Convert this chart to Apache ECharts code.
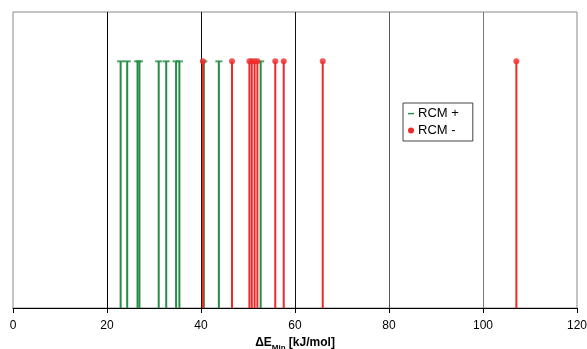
<!DOCTYPE html>
<html><head><meta charset="utf-8">
<script src="https://cdn.jsdelivr.net/npm/echarts@6/dist/echarts.min.js"></script>
<style>html,body{margin:0;padding:0;background:#fff}#c{width:587px;height:349px}</style>
</head><body><div id="c"></div>
<script>
const xTicks = [0, 20, 40, 60, 80, 100, 120];
const rcmPlus = [22.9, 24.3, 26.5, 26.9, 31.0, 32.6, 34.7, 35.4, 40.6, 43.8, 52.7];
const rcmMinus = [40.4, 46.6, 50.3, 50.8, 51.4, 52.0, 55.8, 57.6, 65.9, 107.1];
const stemHeight = 1;

const green = '#238C46', red = '#F02828';
const chart = echarts.init(document.getElementById('c'), null, {renderer: 'canvas'});

function stem(color) {
  return function (params, api) {
    const p0 = api.coord([api.value(0), 0]);
    const p1 = api.coord([api.value(0), api.value(1)]);
    return {type: 'line', shape: {x1: p0[0], y1: p0[1], x2: p1[0], y2: p1[1]},
            style: {stroke: color, lineWidth: 2}};
  };
}
const plusData = rcmPlus.map(v => [v, stemHeight]);
const minusData = rcmMinus.map(v => [v, stemHeight]);

chart.setOption({
  animation: false,
  grid: {left: 13, right: 10, top: 12, bottom: 41, show: true, borderColor: '#888', borderWidth: 1,
         backgroundColor: '#fff', outerBoundsMode: 'none', containLabel: false},
  xAxis: {
    type: 'value', min: xTicks[0], max: xTicks[xTicks.length - 1], interval: 20,
    axisLine: {show: true, lineStyle: {color: '#000', width: 1}},
    axisTick: {show: true, length: 5, inside: false, lineStyle: {color: '#000'}},
    axisLabel: {color: '#000', fontFamily: 'Liberation Sans, Arial', fontSize: 12, margin: 12},
    splitLine: {show: true, showMinLine: false, showMaxLine: false,
      lineStyle: {color: ['#000', '#111', '#111', '#555', '#777', '#777', '#777'], width: 1}},
    name: '{b|ΔE}{s|Min}{b| [kJ/mol]}', nameLocation: 'middle', nameGap: 24,
    nameTextStyle: {rich: {
      b: {fontFamily: 'Liberation Sans, Arial', fontWeight: 'bold', fontSize: 12, color: '#000', lineHeight: 14, verticalAlign: 'bottom'},
      s: {fontFamily: 'Liberation Sans, Arial', fontWeight: 'bold', fontSize: 8, color: '#000', lineHeight: 9, verticalAlign: 'bottom', padding: [0, 0, -3, 0]}
    }}
  },
  yAxis: {type: 'value', min: 0, max: 1.2, show: false, splitLine: {show: false}},
  legend: {
    orient: 'vertical', left: 403, top: 103, padding: [4, 14, 4, 5], itemGap: 4,
    backgroundColor: '#fff', borderColor: '#444', borderWidth: 1, borderRadius: 0,
    itemWidth: 6, itemHeight: 6,
    textStyle: {fontFamily: 'Liberation Sans, Arial', fontSize: 13, color: '#000', padding: [0, 0, 0, -1]},
    data: [
      {name: 'RCM +', icon: 'path://M0,2.4h6v1.4h-6z M0,0 M6,6'},
      {name: 'RCM -', icon: 'circle'}
    ]
  },
  series: [
    {name: 'RCM +', type: 'custom', renderItem: stem(green), data: plusData, encode: {x: 0, y: 1}, itemStyle: {color: green}, z: 2},
    {name: 'RCM -', type: 'custom', renderItem: stem(red), data: minusData, encode: {x: 0, y: 1}, itemStyle: {color: red}, z: 3},
    {name: 'RCM +', type: 'scatter', data: plusData, symbol: 'rect', symbolSize: [7, 2], itemStyle: {color: green}, z: 4},
    {name: 'RCM -', type: 'scatter', data: minusData, symbol: 'circle', symbolSize: 6, itemStyle: {color: red}, z: 5}
  ]
});
</script></body></html>
